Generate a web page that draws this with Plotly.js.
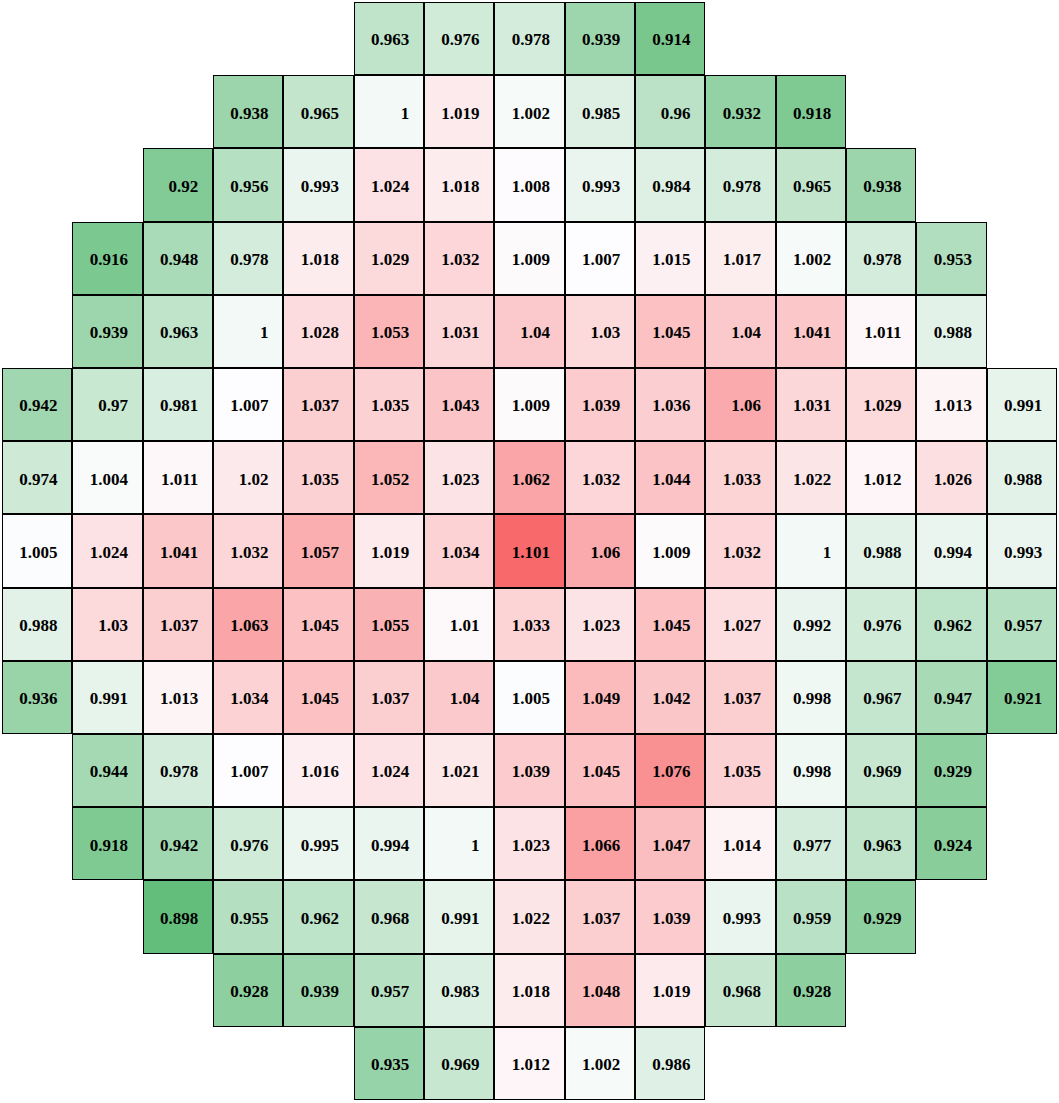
<!DOCTYPE html>
<html>
<head>
<meta charset="utf-8">
<script src="https://cdn.plot.ly/plotly-3.0.1.min.js"></script>
<style>html,body{margin:0;padding:0;background:#fff;}#chart{width:1059px;height:1103px;}</style>
</head>
<body>
<div id="chart"></div>
<script>
// Row start columns (0-based) and values for each row of the core map
const rowStart = [5, 3, 2, 1, 1, 0, 0, 0, 0, 0, 1, 1, 2, 3, 5];
const row0  = [0.963, 0.976, 0.978, 0.939, 0.914];
const row1  = [0.938, 0.965, 1, 1.019, 1.002, 0.985, 0.96, 0.932, 0.918];
const row2  = [0.92, 0.956, 0.993, 1.024, 1.018, 1.008, 0.993, 0.984, 0.978, 0.965, 0.938];
const row3  = [0.916, 0.948, 0.978, 1.018, 1.029, 1.032, 1.009, 1.007, 1.015, 1.017, 1.002, 0.978, 0.953];
const row4  = [0.939, 0.963, 1, 1.028, 1.053, 1.031, 1.04, 1.03, 1.045, 1.04, 1.041, 1.011, 0.988];
const row5  = [0.942, 0.97, 0.981, 1.007, 1.037, 1.035, 1.043, 1.009, 1.039, 1.036, 1.06, 1.031, 1.029, 1.013, 0.991];
const row6  = [0.974, 1.004, 1.011, 1.02, 1.035, 1.052, 1.023, 1.062, 1.032, 1.044, 1.033, 1.022, 1.012, 1.026, 0.988];
const row7  = [1.005, 1.024, 1.041, 1.032, 1.057, 1.019, 1.034, 1.101, 1.06, 1.009, 1.032, 1, 0.988, 0.994, 0.993];
const row8  = [0.988, 1.03, 1.037, 1.063, 1.045, 1.055, 1.01, 1.033, 1.023, 1.045, 1.027, 0.992, 0.976, 0.962, 0.957];
const row9  = [0.936, 0.991, 1.013, 1.034, 1.045, 1.037, 1.04, 1.005, 1.049, 1.042, 1.037, 0.998, 0.967, 0.947, 0.921];
const row10 = [0.944, 0.978, 1.007, 1.016, 1.024, 1.021, 1.039, 1.045, 1.076, 1.035, 0.998, 0.969, 0.929];
const row11 = [0.918, 0.942, 0.976, 0.995, 0.994, 1, 1.023, 1.066, 1.047, 1.014, 0.977, 0.963, 0.924];
const row12 = [0.898, 0.955, 0.962, 0.968, 0.991, 1.022, 1.037, 1.039, 0.993, 0.959, 0.929];
const row13 = [0.928, 0.939, 0.957, 0.983, 1.018, 1.048, 1.019, 0.968, 0.928];
const row14 = [0.935, 0.969, 1.012, 1.002, 0.986];
const rows = [row0,row1,row2,row3,row4,row5,row6,row7,row8,row9,row10,row11,row12,row13,row14];

const N = 15;
const z = [], zBorder = [], tx = [], ty = [], tt = [];
const all = [];
for (let r = 0; r < N; r++) {
  const zr = new Array(N).fill(null), br = new Array(N).fill(null);
  rows[r].forEach((v, i) => {
    const c = rowStart[r] + i;
    zr[c] = v; br[c] = 0; all.push(v);
    tx.push(c); ty.push(r); tt.push(String(v));
  });
  z.push(zr); zBorder.push(br);
}
const zmin = Math.min(...all), zmax = Math.max(...all);
const sorted = all.slice().sort((a,b)=>a-b);
const median = sorted[Math.floor(sorted.length/2)];
const midFrac = (median - zmin) / (zmax - zmin);

const traces = [
  {type:'heatmap', z: zBorder, colorscale:[[0,'#000'],[1,'#000']], showscale:false, hoverinfo:'skip', zmin:0, zmax:1},
  {type:'heatmap', z: z, xgap:2, ygap:2, zmin: zmin, zmax: zmax, showscale:false,
   colorscale:[[0,'rgb(99,190,123)'],[midFrac,'rgb(253,253,255)'],[1,'rgb(248,105,107)']]},
  {type:'scatter', mode:'text', x: tx.map(c => c + 0.29), y: ty.map(r => r + 0.035), text: tt, textposition:'middle left',
   textfont:{family:'"Liberation Serif", "Times New Roman", serif', size:17, color:'#000', weight:'bold'},
   hoverinfo:'skip', showlegend:false, cliponaxis:false}
];
const layout = {
  width:1059, height:1103,
  margin:{l:2, r:2, t:2, b:3, pad:0},
  paper_bgcolor:'#fff', plot_bgcolor:'#fff',
  showlegend:false,
  xaxis:{range:[-0.5,14.5], visible:false, fixedrange:true},
  yaxis:{range:[14.5,-0.5], visible:false, fixedrange:true}
};
Plotly.newPlot('chart', traces, layout, {staticPlot:true, displayModeBar:false});
</script>
</body>
</html>
